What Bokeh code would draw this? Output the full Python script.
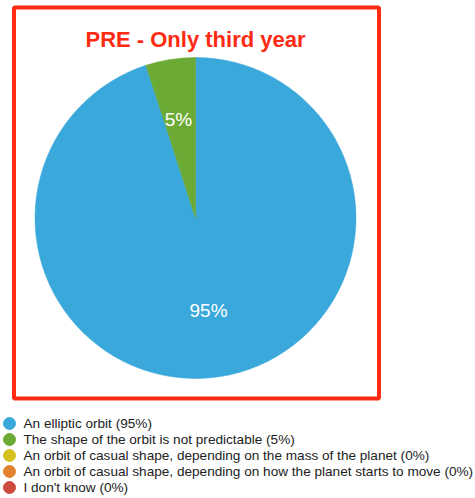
import math
from bokeh.plotting import figure
from bokeh.models import Range1d, ColumnDataSource
from bokeh.core.properties import value
from bokeh.embed import file_html
from bokeh.resources import INLINE

# ---- data ----
title_text = "PRE - Only third year"
categories = [
    "An elliptic orbit",
    "The shape of the orbit is not predictable",
    "An orbit of casual shape, depending on the mass of the planet",
    "An orbit of casual shape, depending on how the planet starts to move",
    "I don't know",
]
percentages = [95, 5, 0, 0, 0]
colors = ["#3BA8DC", "#6BAB35", "#D6C21E", "#E0822E", "#CC4A3E"]

W, H = 475, 498
p = figure(width=W, height=H, output_backend="svg", toolbar_location=None,
           x_range=Range1d(0, W), y_range=Range1d(0, H), min_border=0,
           outline_line_color=None, background_fill_color="white")
p.axis.visible = False
p.grid.visible = False

def fx(sx):
    return sx

def fy(sy):
    return H - sy

# frame
p.quad(left=fx(13.5), right=fx(378.5), bottom=fy(398), top=fy(7),
       fill_color=None, line_color="#FF2A12", line_width=4)

# title
p.text(x=[fx(195)], y=[fy(39)], text=[title_text], text_align="center",
       text_baseline="alphabetic", text_font=value("Liberation Sans"),
       text_font_style="bold", text_font_size="22px", text_color="#FF2A12")

# pie
cx, cy, r = fx(195), fy(217.5), 160.5
total = float(sum(percentages))
starts, ends, wcols, lx, ly, ltxt = [], [], [], [], [], []
ang = math.pi / 2
for v, c in zip(percentages, colors):
    if v <= 0:
        continue
    sweep = 2 * math.pi * v / total
    starts.append(ang)
    ends.append(ang - sweep)
    wcols.append(c)
    mid = ang - sweep / 2
    lx.append(cx + 0.6 * r * math.cos(mid))
    ly.append(cy + 0.6 * r * math.sin(mid))
    ltxt.append(f"{v}%")
    ang -= sweep

p.wedge(x=cx, y=cy, radius=r, start_angle=starts, end_angle=ends,
        direction="clock", fill_color=wcols, line_color=wcols, line_width=0.5)

p.text(x=lx, y=ly, text=ltxt, text_align="center", text_baseline="middle",
       y_offset=-3, x_offset=-2,
       text_font=value("Liberation Sans"), text_font_size="19px",
       text_color="white")

# legend
rows = [423 + 16 * i for i in range(len(categories))]
leg_src = ColumnDataSource(dict(
    x=[fx(9)] * len(categories),
    tx=[fx(23)] * len(categories),
    y=[fy(s) for s in rows],
    label=[f"{c} ({v}%)" for c, v in zip(categories, percentages)],
    color=colors,
))
p.scatter(x="x", y="y", size=12, marker="circle", fill_color="color",
          line_color="color", source=leg_src)
p.text(x="tx", y="y", text="label", text_baseline="middle", text_align="left",
       text_font=value("Liberation Sans"), text_font_size="13.6px",
       text_color="#222222", source=leg_src)

open("out.html", "w").write(file_html(p, INLINE))
